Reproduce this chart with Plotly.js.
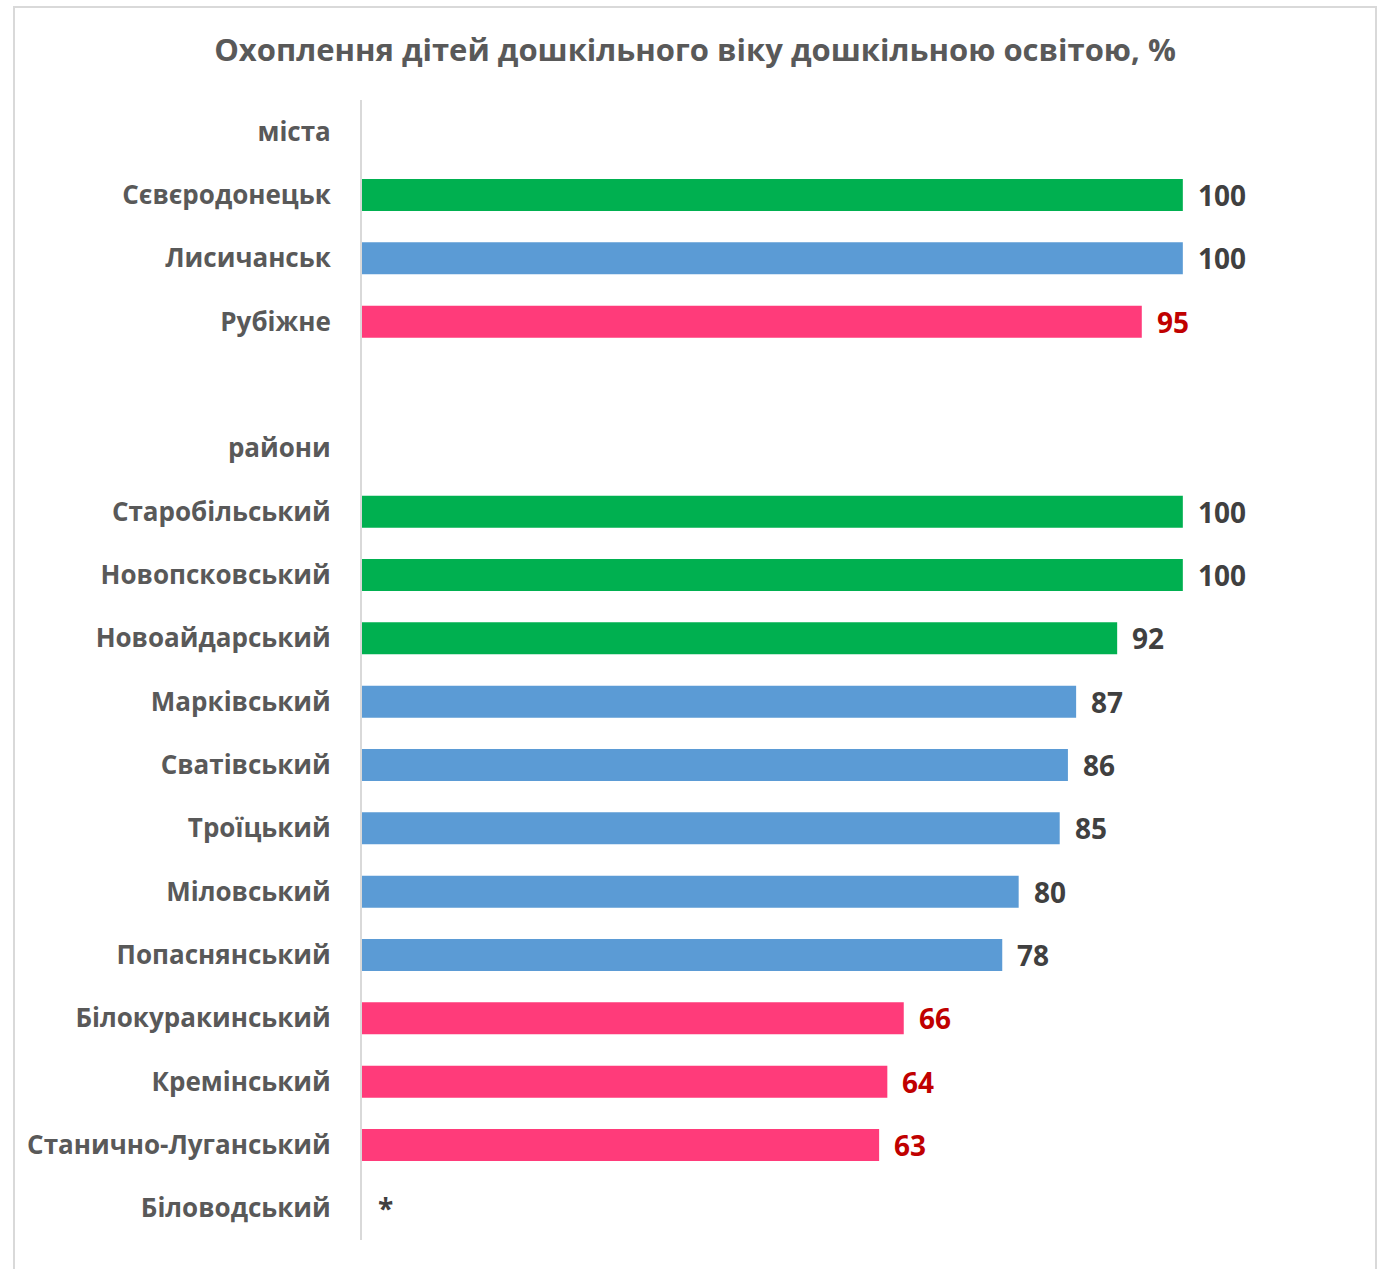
<!DOCTYPE html>
<html>
<head>
<meta charset="utf-8">
<script src="https://cdn.plot.ly/plotly-3.0.1.min.js"></script>
<style>
html,body{margin:0;padding:0;background:#fff;}
#chart{width:1384px;height:1269px;}
</style>
</head>
<body>
<div id="chart"></div>
<script>
const categories = ["міста","Сєвєродонецьк","Лисичанськ","Рубіжне"," ","райони","Старобільський","Новопсковський","Новоайдарський","Марківський","Сватівський","Троїцький","Міловський","Попаснянський","Білокуракинський","Кремінський","Станично-Луганський","Біловодський"];
const values = [null,100,100,95,null,null,100,100,92,87,86,85,80,78,66,64,63,null];
const groups = [null,"high","mid","low",null,null,"high","high","high","mid","mid","mid","mid","mid","low","low","low",null];
const labels = ["","100","100","95","","","100","100","92","87","86","85","80","78","66","64","63","*"];

const barColors = {high:"#00B050", mid:"#5B9BD5", low:"#FF3B7A"};
const labelColors = {high:"#404040", mid:"#404040", low:"#C00000"};
const FONT = "'Open Sans', sans-serif";

const trace = {
  type:"bar", orientation:"h",
  y: categories, x: values.map(v => v === null ? 0 : v),
  marker:{color: groups.map(g => g ? barColors[g] : "rgba(0,0,0,0)")},
  hoverinfo:"none"
};

const annotations = categories.map((c,i) => ({
  x: values[i] === null ? 0 : values[i], y: c, xref:"x", yref:"y",
  text: labels[i], showarrow:false, xanchor:"left", yanchor:"middle",
  xshift: values[i] === null ? 14 : 13,
  font:{family:FONT, size:28, color: groups[i] ? labelColors[groups[i]] : "#404040", weight:"bold"}
})).filter(a => a.text !== "");

const L=362, R=37, T=100, B=29, W=1384, H=1269;
const pw = W-L-R, ph = H-T-B;
const px2x = p => (p-L)/pw, py2y = p => 1-(p-T)/ph;

const layout = {
  width:W, height:H,
  margin:{l:L, r:R, t:T, b:B, pad:0},
  paper_bgcolor:"#fff", plot_bgcolor:"#fff",
  bargap:0.495,
  showlegend:false,
  title:{text:"<b>Охоплення дітей дошкільного віку дошкільною освітою, %</b>", x:695/W, xanchor:"center", xref:"container", y:1-50/H, yref:"container", yanchor:"middle",
    font:{family:FONT, size:31, color:"#595959"}},
  xaxis:{range:[0,120], showgrid:false, zeroline:false, showticklabels:false, showline:false, fixedrange:true},
  yaxis:{type:"category", autorange:"reversed", showgrid:false, zeroline:false, showline:true, linecolor:"#D9D9D9", linewidth:2,
    ticks:"", ticklabelstandoff:24,
    tickfont:{family:FONT, size:26, color:"#595959", weight:"bold"}},
  annotations: annotations,
  shapes:[{type:"rect", xref:"paper", yref:"paper", x0:px2x(14), x1:px2x(1376), y0:py2y(1300), y1:py2y(7),
    line:{color:"#D9D9D9", width:2}, fillcolor:"rgba(0,0,0,0)", layer:"below"}]
};

Plotly.newPlot("chart", [trace], layout, {displayModeBar:false, staticPlot:true});
</script>
</body>
</html>
